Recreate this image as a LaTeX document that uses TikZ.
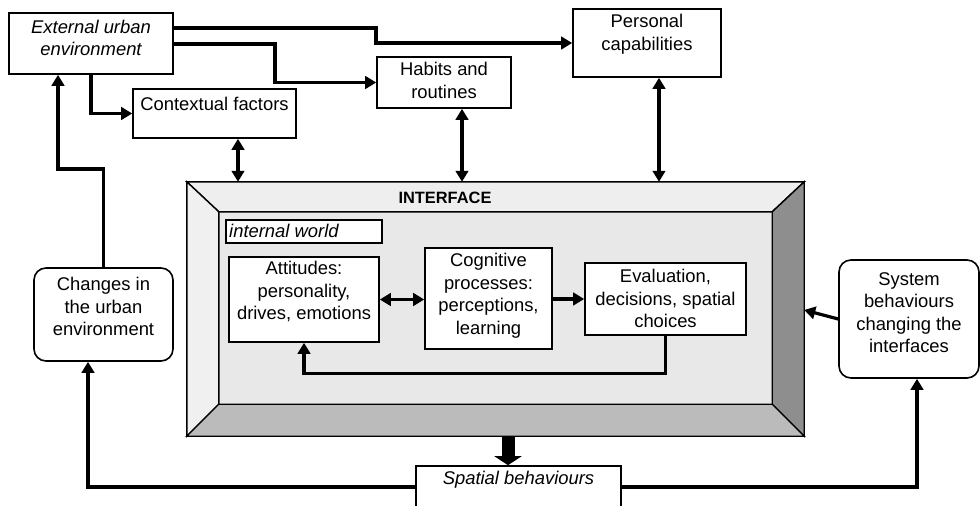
\documentclass[tikz,border=0pt]{standalone}
\usepackage{fontspec}
\setmainfont{Liberation Sans}
\usetikzlibrary{arrows.meta}
\definecolor{bevtop}{HTML}{EEEEEE}
\definecolor{bevleft}{HTML}{F0F0F0}
\definecolor{bevright}{HTML}{8E8E8E}
\definecolor{bevbottom}{HTML}{BBBBBB}
\definecolor{face}{HTML}{E8E8E8}
\newcommand\bodyfont{\fontsize{18.4}{22.5}\selectfont}
\begin{document}
\begin{tikzpicture}[x=1pt,y=-1pt,
  box/.style={draw, line width=1.6pt, fill=white, inner sep=0pt},
  rbox/.style={box, rounded corners=12pt},
  txt/.style={anchor=north, inner sep=0pt, align=center, font=\bodyfont},
  tip/.tip={Triangle[length=11pt,width=12.5pt]},
  conn/.style={line width=3.2pt, -tip},
  both/.style={line width=3.2pt, tip-tip},
  bevel/.style={draw, line width=1.4pt, line join=miter},
]
\clip (0,0) rectangle (980,506);

% outer boxes
\node[box, minimum width=164pt, minimum height=61pt] (ext) at (91,43.5) {};
\node[txt, font=\bodyfont\itshape] (extT) at ([yshift=-7.5pt]ext.north) {External urban\\environment};

\node[box, minimum width=163pt, minimum height=49pt] (ctx) at (214.5,113.5) {};
\node[txt] (ctxT) at ([yshift=-9pt]ctx.north) {Contextual factors};

\node[box, minimum width=134pt, minimum height=51pt] (hab) at (444,82.5) {};
\node[txt] (habT) at ([yshift=-6pt]hab.north) {Habits and\\routines};

\node[box, minimum width=148pt, minimum height=68pt] (pers) at (647,43) {};
\node[txt] (persT) at ([yshift=-6pt]pers.north) {Personal\\capabilities};

\node[rbox, minimum width=139pt, minimum height=93pt] (chg) at (103.5,314.5) {};
\node[txt] (chgT) at ([yshift=-10pt]chg.north) {Changes in\\the urban\\environment};

\node[rbox, minimum width=140pt, minimum height=118pt] (sys) at (909,319) {};
\node[txt] (sysT) at ([yshift=-13pt]sys.north) {System\\behaviours\\changing the\\interfaces};

\node[box, minimum width=205pt, minimum height=52pt] (spat) at (518.5,492) {};
\node[txt, font=\bodyfont\itshape] (spatT) at ([yshift=-6pt]spat.north) {Spatial behaviours};

% the bevelled interface frame
\node[minimum width=617pt, minimum height=254pt, inner sep=0pt] (iface) at (495.5,309) {};
\coordinate (otl) at (iface.north west);
\coordinate (otr) at (iface.north east);
\coordinate (obl) at (iface.south west);
\coordinate (obr) at (iface.south east);
\coordinate (itl) at ([shift={(32,30)}]iface.north west);
\coordinate (itr) at ([shift={(-32,30)}]iface.north east);
\coordinate (ibl) at ([shift={(32,-32)}]iface.south west);
\coordinate (ibr) at ([shift={(-32,-32)}]iface.south east);
\fill[face] (itl) -- (itr) -- (ibr) -- (ibl) -- cycle;
\path[bevel, fill=bevtop] (otl) -- (otr) -- (itr) -- (itl) -- cycle;
\path[bevel, fill=bevleft] (otl) -- (itl) -- (ibl) -- (obl) -- cycle;
\path[bevel, fill=bevright] (otr) -- (obr) -- (ibr) -- (itr) -- cycle;
\path[bevel, fill=bevbottom] (obl) -- (ibl) -- (ibr) -- (obr) -- cycle;
\node[anchor=base, inner sep=0pt, font=\fontsize{16.4}{20}\selectfont\bfseries] (ifT) at (445,203) {INTERFACE};

% internal world
\node[box, line width=1.3pt, minimum width=156pt, minimum height=23pt] (iw) at (304,231.5) {};
\node[anchor=base west, inner sep=0pt, font=\bodyfont\itshape] (iwT) at (229,237) {internal world};

\node[box, minimum width=150pt, minimum height=85pt] (att) at (304,299.5) {};
\node[txt] (attT) at ([yshift=-5pt]att.north) {Attitudes:\\personality,\\drives, emotions};

\node[box, minimum width=127pt, minimum height=101pt] (cog) at (488.5,298.5) {};
\node[txt] (cogT) at ([yshift=-6pt]cog.north) {Cognitive\\processes:\\perceptions,\\learning};

\node[box, minimum width=161pt, minimum height=72pt] (eval) at (665.5,299) {};
\node[txt] (evalT) at ([yshift=-7pt]eval.north) {Evaluation,\\decisions, spatial\\choices};

% connectors
\draw[conn] (ext.east |- 0,28) -- (376,28) |- (pers.west);
\draw[conn] (ext.east |- 0,44) -- (275,44) |- (hab.west);
\draw[conn] (ext.south) |- (ctx.west);
\draw[both] (ctx.south -| 238,0) -- (iface.north -| 238,0);
\draw[both] (hab.south -| 462,0) -- (iface.north -| 462,0);
\draw[both] (pers.south -| 659,0) -- (iface.north -| 659,0);
\draw[both] (att.east) -- (att.east -| cog.west);
\draw[conn] (cog.east |- eval.west) -- (eval.west);
\draw[conn] (eval.south) -- ++(0,38) -| (att.south);
\draw[conn] (sys.west) -- (iface.east |- 0,310);
\draw[conn] (chg.north) -- (chg.north |- 0,169) -| (ext.south -| 58,0);
\draw[conn] (spat.west |- 0,487) -| (chg.south -| 88,0);
\draw[conn] (spat.east |- 0,487) -| (sys.south -| 917,0);
\draw[line width=13pt, -{Triangle[length=9pt,width=27pt]}] (iface.south -| 508,0) -- (spat.north -| 508,0);
\end{tikzpicture}
\end{document}
